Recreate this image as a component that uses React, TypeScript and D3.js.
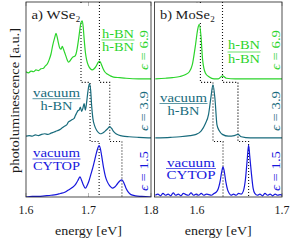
import React from "react";
import * as d3 from "d3";

// spectra as [energy eV, intensity a.u.], one offset per stack level
const greenA: [number, number][] = [
  [1.6, 0.12], [1.604, 0.1], [1.608, 0.13], [1.612, 0.12], [1.616, 0.15], [1.62, 0.14],
  [1.624, 0.17], [1.628, 0.18], [1.631, 0.22], [1.634, 0.25], [1.637, 0.32], [1.64, 0.42],
  [1.643, 0.58], [1.646, 0.7], [1.648, 0.77], [1.65, 0.7], [1.652, 0.6], [1.654, 0.52],
  [1.656, 0.5], [1.658, 0.55], [1.66, 0.5], [1.662, 0.44], [1.664, 0.38], [1.666, 0.32],
  [1.668, 0.28], [1.67, 0.3], [1.672, 0.33], [1.675, 0.37], [1.678, 0.38], [1.68, 0.42],
  [1.682, 0.52], [1.684, 0.66], [1.686, 0.82], [1.688, 0.95], [1.69, 0.98], [1.6915, 0.88],
  [1.693, 0.68], [1.695, 0.45], [1.697, 0.32], [1.7, 0.22], [1.703, 0.17], [1.706, 0.15],
  [1.709, 0.17], [1.712, 0.21], [1.715, 0.27], [1.7175, 0.3], [1.72, 0.26], [1.723, 0.18],
  [1.726, 0.12], [1.73, 0.08], [1.735, 0.05], [1.74, 0.03], [1.75, 0.02], [1.76, 0.01],
  [1.78, 0.0], [1.8, 0.0],
];
const tealA: [number, number][] = [
  [1.6, 0.03], [1.605, 0.04], [1.61, 0.03], [1.615, 0.05], [1.62, 0.04], [1.625, 0.06],
  [1.63, 0.07], [1.635, 0.06], [1.64, 0.08], [1.645, 0.1], [1.65, 0.12], [1.654, 0.14],
  [1.658, 0.17], [1.662, 0.2], [1.665, 0.22], [1.668, 0.27], [1.671, 0.29], [1.674, 0.31],
  [1.677, 0.33], [1.679, 0.38], [1.681, 0.42], [1.683, 0.46], [1.685, 0.47], [1.687, 0.52],
  [1.689, 0.45], [1.691, 0.5], [1.693, 0.58], [1.695, 0.47], [1.697, 0.6], [1.699, 0.78],
  [1.7015, 0.92], [1.7035, 0.8], [1.705, 0.55], [1.707, 0.33], [1.71, 0.2], [1.713, 0.13],
  [1.716, 0.09], [1.719, 0.07], [1.722, 0.08], [1.725, 0.1], [1.728, 0.13], [1.731, 0.16],
  [1.734, 0.19], [1.737, 0.16], [1.74, 0.11], [1.744, 0.07], [1.748, 0.05], [1.755, 0.03],
  [1.765, 0.02], [1.78, 0.01], [1.8, 0.0],
];
const blueA: [number, number][] = [
  [1.6, 0.0], [1.61, 0.01], [1.62, 0.01], [1.63, 0.02], [1.64, 0.03], [1.648, 0.04],
  [1.655, 0.06], [1.662, 0.08], [1.668, 0.12], [1.674, 0.16], [1.679, 0.21], [1.683, 0.28],
  [1.6865, 0.34], [1.689, 0.28], [1.692, 0.2], [1.695, 0.15], [1.698, 0.2], [1.701, 0.28],
  [1.704, 0.39], [1.707, 0.5], [1.71, 0.63], [1.713, 0.76], [1.715, 0.83], [1.717, 0.87],
  [1.719, 0.82], [1.721, 0.7], [1.724, 0.5], [1.727, 0.35], [1.73, 0.26], [1.734, 0.19],
  [1.738, 0.15], [1.742, 0.17], [1.746, 0.22], [1.75, 0.27], [1.7535, 0.29], [1.757, 0.23],
  [1.76, 0.15], [1.764, 0.08], [1.768, 0.04], [1.775, 0.02], [1.785, 0.01], [1.8, 0.0],
];

const greenB: [number, number][] = [
  [1.551, 0.0], [1.563, 0.01], [1.571, 0.02], [1.58, 0.04], [1.586, 0.07], [1.591, 0.12],
  [1.5945, 0.24], [1.598, 0.55], [1.601, 0.85], [1.6027, 0.92], [1.6047, 0.72], [1.6066, 0.32],
  [1.6098, 0.1], [1.6145, 0.03], [1.62, 0.0], [1.625, 0.0], [1.63, 0.05], [1.6345, 0.01],
  [1.645, 0.0], [1.7, 0.0],
];
const tealB: [number, number][] = [
  [1.551, 0.0], [1.5686, 0.01], [1.58, 0.02], [1.592, 0.04], [1.599, 0.06], [1.605, 0.12],
  [1.6098, 0.24], [1.6136, 0.4], [1.6165, 0.7], [1.6188, 0.9], [1.6212, 0.65], [1.6235, 0.22],
  [1.6262, 0.12], [1.6298, 0.06], [1.637, 0.03], [1.6439, 0.04], [1.6482, 0.06], [1.6521, 0.02],
  [1.6627, 0.0], [1.7, 0.0],
];
const blueB: [number, number][] = [
  [1.551, 0.03], [1.554, 0.05], [1.557, 0.02], [1.56, 0.06], [1.563, 0.03], [1.566, 0.05],
  [1.569, 0.02], [1.572, 0.07], [1.575, 0.03], [1.578, 0.05], [1.581, 0.02], [1.584, 0.06],
  [1.587, 0.04], [1.59, 0.03], [1.593, 0.07], [1.596, 0.03], [1.599, 0.05], [1.602, 0.03],
  [1.605, 0.06], [1.608, 0.03], [1.611, 0.05], [1.614, 0.04], [1.617, 0.03], [1.62, 0.06],
  [1.6225, 0.08], [1.625, 0.14], [1.627, 0.25], [1.629, 0.42], [1.6306, 0.51], [1.632, 0.44],
  [1.634, 0.25], [1.636, 0.12], [1.638, 0.06], [1.64, 0.03], [1.643, 0.05], [1.646, 0.03],
  [1.649, 0.06], [1.652, 0.05], [1.6545, 0.1], [1.657, 0.3], [1.659, 0.62], [1.6607, 0.88],
  [1.662, 0.7], [1.664, 0.4], [1.666, 0.15], [1.668, 0.06], [1.671, 0.03], [1.674, 0.05],
  [1.677, 0.02], [1.68, 0.06], [1.683, 0.03], [1.686, 0.05], [1.689, 0.02], [1.692, 0.05],
  [1.695, 0.03], [1.698, 0.04], [1.7, 0.03],
];

// peak energies the dotted guides step through, per stack level
const peaksGreenA = [1.688, 1.7175];
const peaksTealA = [1.7025, 1.734];
const peaksBlueA = [1.717, 1.7535];
const peaksGreenB = [1.604, 1.63];
const peaksTealB = [1.6188, 1.6482];
const peaksBlueB = [1.6306, 1.6607];

const ticksA = [1.6, 1.7, 1.8];
const ticksB = [1.6, 1.7];
const epsilons = ["6.9", "3.9", "1.5"];
const offsets = [2, 1, 0];

const GREEN = "#2bd42b";
const TEAL = "#186b7c";
const BLUE = "#1717dd";
const colors = [GREEN, TEAL, BLUE];
const FONT = "Liberation Serif";
const INK = "#1a1a1a";

const yTop = 2;
const yBot = 197;
const y = d3.scaleLinear().domain([0, 3.3]).range([yBot, yTop]);

const Frac = ({ cx, yUp, yBar, yLow, up, low, wUp, wLow, color }: any) => {
  const w = Math.max(wUp, wLow) + 1;
  return (
    <g>
      <text x={cx - wUp / 2} y={yUp} fill={color} fontFamily={FONT} fontSize={12} textLength={wUp} lengthAdjust="spacingAndGlyphs">
        {up}
      </text>
      <line x1={cx - w / 2} x2={cx + w / 2} y1={yBar} y2={yBar} stroke={color} strokeWidth={0.7} />
      <text x={cx - wLow / 2} y={yLow} fill={color} fontFamily={FONT} fontSize={12} textLength={wLow} lengthAdjust="spacingAndGlyphs">
        {low}
      </text>
    </g>
  );
};

const Panel = ({ id, x0, x1, domain, ticks, spectra, peaks, title, titleW, epsX, children }: any) => {
  const x = d3.scaleLinear().domain(domain).range([x0, x1]);
  const line = (off: number) =>
    d3
      .line<[number, number]>()
      .x((d) => x(d[0]))
      .y((d) => y(d[1] + off))
      .curve(d3.curveMonotoneX);
  const guides = [0, 1].map((i) => {
    const g = x(peaks[0][i]);
    const t = x(peaks[1][i]);
    const b = x(peaks[2][i]);
    return `M${g},${yTop}V${y(1.94)}H${t}V${y(0.94)}H${b}V${yBot}`;
  });
  return (
    <g>
      <defs>
        <clipPath id={id}>
          <rect x={x0} y={yTop} width={x1 - x0} height={yBot - yTop} />
        </clipPath>
      </defs>
      {ticks.map((t: number) => (
        <g key={t} stroke="#999" strokeWidth={0.7}>
          <line x1={x(t)} x2={x(t)} y1={yTop} y2={yTop + 4} />
          <line x1={x(t)} x2={x(t)} y1={yBot} y2={yBot - 4} />
        </g>
      ))}
      {guides.map((d, i) => (
        <path key={i} d={d} fill="none" stroke="#111" strokeWidth={1.1} strokeDasharray="1.1 1.9" />
      ))}
      <rect x={x0 + 2} y={yTop + 1} width={titleW + 10} height={19} fill="#fff" />
      <text x={x0 + 5.5} y={18.5} fill={INK} fontFamily={FONT} fontSize={12.5} textLength={titleW} lengthAdjust="spacingAndGlyphs">
        {title}
      </text>
      <text x={x0 + 5.8 + titleW} y={21.5} fill={INK} fontFamily={FONT} fontSize={9}>2</text>
      <g clipPath={`url(#${id})`}>
        {spectra.map((s: [number, number][], i: number) => (
          <path key={i} d={line(offsets[i])(s) || ""} fill="none" stroke={colors[i]} strokeWidth={1.2} strokeLinejoin="round" />
        ))}
      </g>
      {epsilons.map((e, i) => (
        <text
          key={e}
          transform={`translate(${epsX},${[50, 111, 171][i]}) rotate(-90)`}
          textAnchor="middle"
          fill={colors[i]}
          fontFamily={FONT}
          fontSize={11.5}
          textLength={40}
          lengthAdjust="spacingAndGlyphs"
        >
          <tspan fontStyle="italic">ϵ</tspan> = {e}
        </text>
      ))}
      {children}
      <rect x={x0} y={yTop} width={x1 - x0} height={yBot - yTop} fill="none" stroke="#222" strokeWidth={0.8} />
      {ticks.map((t: number) => (
        <text key={t} x={x(t)} y={214} textAnchor="middle" fill={INK} fontFamily={FONT} fontSize={12}>
          {t.toFixed(1)}
        </text>
      ))}
      <text x={(x0 + x1) / 2 - 33.5} y={234.5} fill={INK} fontFamily={FONT} fontSize={12} textLength={67} lengthAdjust="spacingAndGlyphs">
        energy [eV]
      </text>
    </g>
  );
};

export default function App() {
  return (
    <svg width={297} height={245} style={{ position: "absolute", left: 0, top: 0, background: "#fff" }}>
      <text
        transform="translate(19,100.5) rotate(-90)"
        textAnchor="middle"
        fill={INK}
        fontFamily={FONT}
        fontSize={12.5}
        textLength={145}
        lengthAdjust="spacingAndGlyphs"
      >
        photoluminescence [a.u.]
      </text>
      <Panel
        id="clipA"
        x0={26}
        x1={151}
        domain={[1.6, 1.8]}
        ticks={ticksA}
        spectra={[greenA, tealA, blueA]}
        peaks={[peaksGreenA, peaksTealA, peaksBlueA]}
        title="a) WSe"
        titleW={44}
        epsX={147.5}
      >
        <Frac cx={118} yUp={37.5} yBar={40} yLow={51} up="h-BN" low="h-BN" wUp={32} wLow={32} color={GREEN} />
        <Frac cx={56.5} yUp={96.5} yBar={98.7} yLow={110} up="vacuum" low="h-BN" wUp={47} wLow={32} color={TEAL} />
        <Frac cx={56.5} yUp={156.5} yBar={159} yLow={170} up="vacuum" low="CYTOP" wUp={47} wLow={47} color={BLUE} />
      </Panel>
      <Panel
        id="clipB"
        x0={154.5}
        x1={282}
        domain={[1.55, 1.7]}
        ticks={ticksB}
        spectra={[greenB, tealB, blueB]}
        peaks={[peaksGreenB, peaksTealB, peaksBlueB]}
        title="b) MoSe"
        titleW={50}
        epsX={279.5}
      >
        <Frac cx={244} yUp={49} yBar={52} yLow={63} up="h-BN" low="h-BN" wUp={32} wLow={32} color={GREEN} />
        <Frac cx={183.5} yUp={101.5} yBar={103.5} yLow={115} up="vacuum" low="h-BN" wUp={47} wLow={32} color={TEAL} />
        <Frac cx={191} yUp={166.5} yBar={168.5} yLow={179} up="vacuum" low="CYTOP" wUp={48} wLow={49} color={BLUE} />
      </Panel>
    </svg>
  );
}
